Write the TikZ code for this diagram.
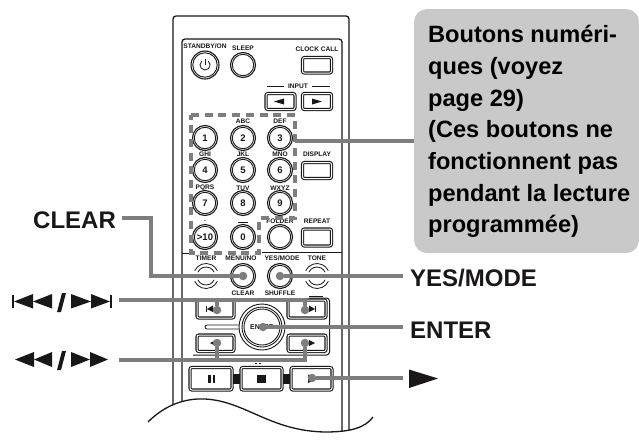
\documentclass[tikz,border=0pt]{standalone}
\usepackage{fontspec}
\setmainfont{Liberation Sans}
\setsansfont{Liberation Sans}
\usetikzlibrary{calc}
\definecolor{leadgray}{HTML}{7E7E7E}
\definecolor{callout}{HTML}{C9C9C9}
\definecolor{ink}{HTML}{1A1718}
\newcommand{\sizefs}[1]{\fontsize{#1}{#1}\selectfont}
\tikzset{
  x=1pt,y=-1pt,
  smalllab/.style={font=\sizefs{6.6}\bfseries,text=ink,inner sep=0pt,anchor=center},
  biglab/.style={font=\sizefs{24}\bfseries,text=ink,inner sep=0pt,anchor=base west},
  boxlab/.style={font=\sizefs{23.6}\bfseries,text=black,inner sep=0pt,anchor=base west},
  digit/.style={font=\sizefs{9.5}\bfseries,text=ink,inner sep=0pt},
  leadline/.style={draw=leadgray,line width=3.6pt},
  leaddot/.style={circle,fill=leadgray,minimum size=8.5pt,inner sep=0pt},
  key/.style={draw=ink,line width=1.1pt,rounded corners=2pt,double=white,double distance=1.0pt},
  body/.style={draw=ink,line width=1.3pt},
  thinline/.style={draw=ink,line width=0.8pt},
  sym/.style={fill=ink},
}
\newcommand{\roundkey}[3]{%
  \node[circle,draw=ink,line width=1.1pt,minimum size=#3*2pt,inner sep=0pt] (#1) at (#2) {};
  \node[circle,draw=ink,line width=0.9pt,minimum size=#3*2pt-3.6pt,inner sep=0pt] at (#2) {};}
\begin{document}
\begin{tikzpicture}
\useasboundingbox (0,0) rectangle (639,440);
\fill[white] (0,0) rectangle (639,440);
% remote body
\draw[body,rounded corners=3pt] (173,431) -- (173,16) -- (349,16) -- (349,431);
\draw[body,rounded corners=3pt] (182,431) -- (182,39) -- (342,39) -- (342,431);
% top keys
\roundkey{standby}{205,65}{14}
\draw[thinline] (205,65) ++(230:5) arc[start angle=230,end angle=-50,radius=5];
\draw[thinline] (205,58.5) -- (205,65);
\roundkey{sleep}{243,65}{12.5}
\node[smalllab] at (205,46) {STANDBY/ON};
\node[smalllab] at (243,48) {SLEEP};
\node[smalllab] at (317,49) {CLOCK CALL};
\draw[key] (302.5,57.5) rectangle (331.5,73);
\node[smalllab] (inp) at (298,86) {INPUT};
\draw[thinline] (267,86) -- (284,86);
\draw[thinline] (312,86) -- (330,86);
\draw[key] (266,93.5) rectangle (295,109.5);
\draw[key] (302.5,93.5) rectangle (331.5,109.5);
\fill[sym] (274,101.5) -- (284,98.5) -- (284,104.5) -- cycle;
\fill[sym] (322,101.5) -- (312,98.5) -- (312,104.5) -- cycle;
% digit keys
\foreach \nm/\cx/\cy/\lab in {d1/205/138/1,d2/243/138/2,d3/280/138/3,d4/205/170/4,d5/243/170/5,d6/280/170/6,d7/205/203/7,d8/243/203/8,d9/280/203/9,d0/243/237/0}{
  \roundkey{\nm}{\cx,\cy}{12.5}
  \node[digit] at (\cx,\cy) {\lab};
}
\roundkey{d10}{205,237}{12.5}
\node[digit] at (205,237) {>10};
\foreach \cx/\cy/\lab in {243/121/ABC,280/121/DEF,205/154/GHI,243/154/JKL,280/154/MNO,205/188/PQRS,243/188/TUV,280/188/WXYZ,205/221/. / *}{
  \node[smalllab] at (\cx,\cy) {\lab};
}
\draw[thinline] (238,222) -- (248,222);
\node[smalllab] at (317,154) {DISPLAY};
\draw[key] (302.5,162.5) rectangle (331.5,178.5);
\node[smalllab] at (280,221) {FOLDER};
\roundkey{folder}{280,237}{12.5}
\node[smalllab] at (317,221) {REPEAT};
\draw[key] (302.5,229) rectangle (331.5,246);
\draw[thinline] (182,253) -- (189,253);
\draw[thinline] (262,252.5) -- (342,252.5);
% lower keys
\node[smalllab] at (206,258) {TIMER};
\node[smalllab] at (241,258) {MENU/NO};
\node[smalllab] at (282,258) {YES/MODE};
\node[smalllab] at (317,258) {TONE};
\roundkey{menu}{243,276}{12.5}
\roundkey{yes}{280,276}{12.5}
\foreach \nm/\cx in {timer/206,tone/317}{
  \coordinate (\nm) at (\cx,276);
  \draw[thinline] (\nm) ++(205:12.5) arc[start angle=205,end angle=335,radius=12.5];
  \draw[thinline] (\nm) ++(205:9) arc[start angle=205,end angle=335,radius=9];
  \draw[thinline] (\nm) ++(155:12.5) arc[start angle=155,end angle=25,radius=12.5];
  \draw[thinline] (\nm) ++(155:9) arc[start angle=155,end angle=25,radius=9];
}
\node[smalllab] at (243,293) {CLEAR};
\node[smalllab] at (280,293) {SHUFFLE};
\draw[thinline] (309,296) -- (323,296);
\draw[key] (197,300) rectangle (234,318);
\draw[key] (288,300) rectangle (326,318);
\draw[key] (197,335) rectangle (234,351.5);
\draw[key] (288,335) rectangle (326,351.5);
\fill[sym] (206,305.5) rectangle (207,312);
\fill[sym] (207,309) -- (213,305.5) -- (213,312) -- cycle;
\fill[sym] (315,305.5) rectangle (316,312);
\fill[sym] (315,309) -- (309,305.5) -- (309,312) -- cycle;
\fill[sym] (210,343) -- (216,340) -- (216,346) -- cycle;
\fill[sym] (315,343) -- (309,340) -- (309,346) -- cycle;
% enter cluster
\draw[thinline] (245,325) -- (207,325) arc[start angle=270,end angle=90,radius=2] -- (245,329);
\node[circle,draw=ink,fill=white,line width=0.9pt,minimum size=46pt,inner sep=0pt] at (262,327) {};
\node[circle,draw=ink,line width=0.9pt,minimum size=40pt,inner sep=0pt] at (262,327) {};
\node[circle,draw=ink,line width=0.9pt,minimum size=36pt,inner sep=0pt] (enterkey) at (262,327) {};
\node[digit,font=\sizefs{7}\bfseries] at (262,327) {ENTER};
\draw[body,line width=1pt,rounded corners=3pt] (193,355) -- (329.5,355) -- (329.5,298) -- (309,298);
% transport keys
\draw[thinline] (255,363) -- (257,363) (259,363) -- (261,363);
\fill[sym] (232,374) rectangle (241,384);
\fill[sym] (282,374) rectangle (291,384);
\draw[key] (190,367.5) rectangle (232,390);
\draw[key] (241,367.5) rectangle (282,390);
\draw[key] (291,367.5) rectangle (332,390);
\fill[sym] (208,374.5) rectangle (210.5,383);
\fill[sym] (212.5,374.5) rectangle (215,383);
\fill[sym] (257,374.5) rectangle (266,383);
\fill[sym] (308,374.5) -- (317,378.7) -- (308,383) -- cycle;
% wave cut
\fill[white] (148,422) .. controls (165,405) and (185,398) .. (205,399) .. controls (245,401) and (270,431) .. (325,432) .. controls (350,432) and (365,428) .. (373,417) -- (373,440) -- (148,440) -- cycle;
\draw[body] (148,422) .. controls (165,405) and (185,398) .. (205,399) .. controls (245,401) and (270,431) .. (325,432) .. controls (350,432) and (365,428) .. (373,417);
% dashed frame
\draw[draw=leadgray,line width=3.4pt,dash pattern=on 8pt off 5.7pt] (191,115) -- (295,115) -- (295,218) -- (259,218) -- (259,253) -- (191,253) -- cycle;
% callout
\path[fill=callout,rounded corners=13pt] (414,9) rectangle (639,253);
\coordinate (boxleft) at (414,141);
\coordinate (frameright) at (295,141);
\foreach \nm/\ty/\tx in {l1/42/Boutons numéri-,l2/74/ques (voyez,l3/106/page 29),l4/137/(Ces boutons ne,l5/169/fonctionnent pas,l6/201/pendant la lecture,l7/232/programmée)}{
  \node[boxlab] (\nm) at (428,\ty) {\tx};
}
% leaders and labels
\draw[leadline] (frameright) -- (boxleft);
\node[biglab] (clear) at (33,228) {CLEAR};
\coordinate (clearend) at (122,218);
\node[leaddot] (dmenu) at (243,276) {};
\draw[leadline] (clearend) -- (151,218) -- (151,276) -- (dmenu);
\node[biglab] (yesl) at (410,286) {YES/MODE};
\node[leaddot] (dyes) at (280,276) {};
\coordinate (yesend) at (403,276);
\draw[leadline] (dyes) -- (yesend);
\node[biglab] (entl) at (410,338) {ENTER};
\node[leaddot] (dent) at (263,327) {};
\coordinate (entend) at (403,327);
\draw[leadline] (dent) -- (entend);
% skip symbols
\coordinate (skipend) at (119,300);
\coordinate (skipa) at (217,300);
\coordinate (skipb) at (305,300);
\node[leaddot] (ds1) at (217,310) {};
\node[leaddot] (ds2) at (305,310) {};
\draw[leadline] (skipend) -- (skipb) -- (ds2);
\draw[leadline] (skipa) -- (ds1);
\fill[sym] (12,295) rectangle (14,308);
\fill[sym] (14,301.5) -- (33,294) -- (33,308.5) -- cycle;
\fill[sym] (33,301.5) -- (52,294) -- (52,308.5) -- cycle;
\fill[sym] (110,295) rectangle (112,308);
\fill[sym] (110,301.5) -- (91,294) -- (91,308.5) -- cycle;
\fill[sym] (91,301.5) -- (71,294) -- (71,308.5) -- cycle;
\fill[sym] (57,312) -- (61,312) -- (66,293) -- (62,293) -- cycle;
% seek symbols
\coordinate (seekend) at (119,360);
\coordinate (seeka) at (217,360);
\coordinate (seekb) at (305,360);
\node[leaddot] (dr1) at (217,343) {};
\node[leaddot] (dr2) at (305,343) {};
\draw[leadline] (seekend) -- (seekb) -- (dr2);
\draw[leadline] (seeka) -- (dr1);
\fill[sym] (15,359.5) -- (34,352) -- (34,367) -- cycle;
\fill[sym] (34,359.5) -- (52,352) -- (52,367) -- cycle;
\fill[sym] (108,359.5) -- (90,352) -- (90,367) -- cycle;
\fill[sym] (90,359.5) -- (71,352) -- (71,367) -- cycle;
\fill[sym] (57,370) -- (61,370) -- (66,351) -- (62,351) -- cycle;
% play leader
\coordinate (playend) at (403,378);
\node[leaddot] (dplay) at (312,378) {};
\draw[leadline] (dplay) -- (playend);
\fill[sym] (409,369.5) -- (438,378.5) -- (409,388) -- cycle;
\end{tikzpicture}
\end{document}
